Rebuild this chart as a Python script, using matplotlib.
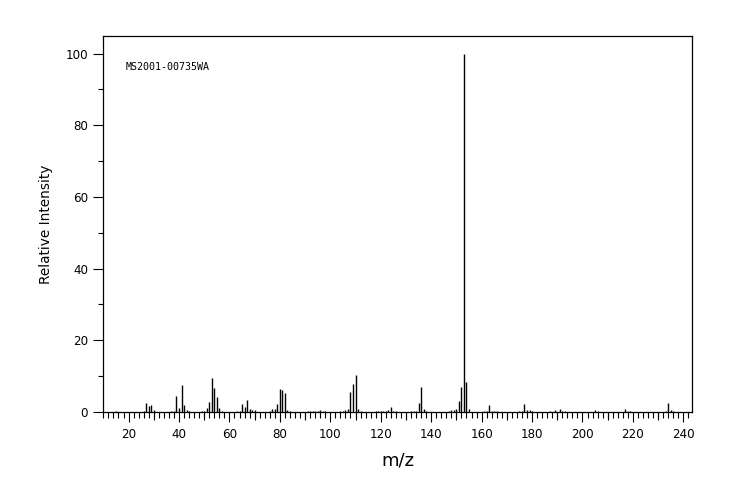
import numpy as np
import matplotlib
matplotlib.use("Agg")
from matplotlib import pyplot as plt

# peak list (m/z, relative intensity)
mz = [15, 26, 27, 28, 29, 30, 37, 38, 39, 40, 41, 42, 43, 44,
      49, 50, 51, 52, 53, 54, 55, 56, 57, 63, 64, 65, 66, 67, 68, 69, 70,
      76, 77, 78, 79, 80, 81, 82, 83, 84,
      91, 92, 93, 94, 95, 96, 97, 98, 104, 105, 106, 107, 108, 109, 110, 111, 112,
      118, 119, 120, 121, 122, 123, 124, 125, 126,
      132, 133, 134, 135, 136, 137, 138,
      147, 148, 149, 150, 151, 152, 153, 154, 155,
      161, 162, 163, 164, 165, 166,
      175, 176, 177, 178, 179, 180, 187, 189, 191, 192, 193, 205, 206,
      217, 218, 219, 233, 234, 235, 236]
intensity = [0.3, 0.3, 2.5, 1.8, 2.0, 0.6, 0.3, 0.3, 4.6, 1.2, 7.6, 2.0, 0.65, 0.3,
             0.3, 0.3, 1.2, 2.9, 9.6, 6.8, 4.3, 1.2, 0.3, 0.3, 0.3, 2.3, 1.5, 3.4, 0.9, 0.65, 0.65,
             0.3, 0.9, 0.9, 2.3, 6.5, 6.2, 5.4, 0.65, 0.4,
             0.3, 0.3, 0.3, 0.3, 0.3, 0.55, 0.3, 0.3, 0.3, 0.3, 0.55, 0.9, 5.7, 7.8, 10.3, 0.9, 0.4,
             0.3, 0.3, 0.3, 0.3, 0.3, 0.55, 1.4, 0.4, 0.3,
             0.3, 0.3, 0.3, 2.5, 7.0, 0.9, 0.3,
             0.3, 0.65, 0.65, 0.9, 3.2, 7.1, 100.0, 8.5, 0.9,
             0.3, 0.3, 2.0, 0.3, 0.3, 0.3,
             0.3, 0.3, 2.2, 0.55, 0.6, 0.3, 0.3, 0.55, 0.8, 0.3, 0.3, 0.55, 0.3,
             0.8, 0.3, 0.3, 0.3, 2.5, 0.55, 0.3]

sample_id = "MS2001-00735WA"

fig = plt.figure(figsize=(7.44, 5.0), dpi=100)
ax = fig.add_axes([0.1389, 0.176, 0.7908, 0.752])

ax.vlines(mz, 0, intensity, colors="black", linewidth=1.0)

ax.set_xlim(10, 243.3)
ax.set_ylim(0, 104.9)

ax.set_xticks(np.arange(20, 241, 20))
ax.set_xticks(np.arange(10, 243, 2), minor=True)
ax.set_yticks(np.arange(0, 101, 20))
ax.set_yticks(np.arange(0, 101, 10), minor=True)

ax.tick_params(axis="x", which="major", length=7.5, width=0.8, pad=4, labelsize=8.6)
ax.tick_params(axis="x", which="minor", length=4, width=0.8)
ax.tick_params(axis="y", which="major", length=7.5, width=0.8, pad=3.5, labelsize=8.6)
ax.tick_params(axis="y", which="minor", length=3.5, width=0.8)

# medium ticks at 30, 50, ...
sec = ax.secondary_xaxis("bottom")
sec.set_xticks(np.arange(30, 241, 20))
sec.tick_params(length=5.5, width=0.8, labelbottom=False)
for s in sec.spines.values():
    s.set_visible(False)

for s in ax.spines.values():
    s.set_linewidth(0.9)

ax.set_xlabel("m/z", fontsize=13)
ax.xaxis.set_label_coords(0.5, -0.105)
ax.set_ylabel("Relative Intensity", fontsize=9.8)
ax.yaxis.set_label_coords(-0.085, 0.5)

ax.text(0.038, 0.918, sample_id, transform=ax.transAxes, fontsize=7.2,
        family="DejaVu Sans Mono", va="center", ha="left")

fig.savefig("out.png", dpi=100)
